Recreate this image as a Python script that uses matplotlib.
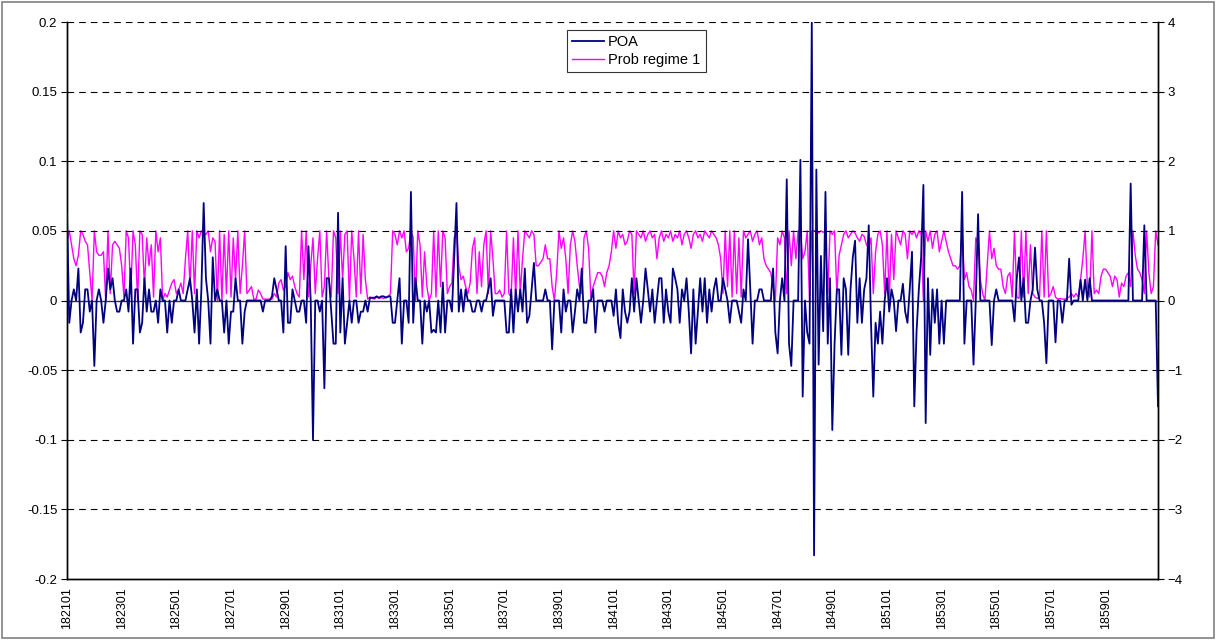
import matplotlib
matplotlib.use("Agg")
import matplotlib.pyplot as plt
from matplotlib.patches import Rectangle

plt.rcParams['font.family'] = ['Liberation Sans', 'DejaVu Sans']

# monthly series, 182101 .. 186012 (12 values per row = one year)
poa = [
    0.063, -0.016, 0, 0.008, 0, 0.023, -0.023, -0.016, 0.008, 0.008, -0.008, 0,          # 1821
    -0.047, 0, 0.008, 0, -0.016, 0, 0.023, 0.008, 0.016, 0, -0.008, -0.008,              # 1822
    0, 0, 0.008, -0.008, 0.023, -0.031, 0.008, 0.008, -0.023, -0.016, 0.016, -0.008,     # 1823
    0.008, -0.008, -0.008, 0, -0.016, 0.008, 0, 0, -0.023, 0, -0.016, 0,                 # 1824
    0, 0.008, 0, 0, 0, 0.008, 0.016, 0, -0.023, 0.008, -0.031, 0.008,                    # 1825
    0.07, 0.016, 0, -0.031, 0.031, 0, 0.008, 0, 0, -0.023, 0, -0.031,                    # 1826
    -0.008, -0.008, 0.016, 0, 0, -0.031, -0.008, 0, 0, 0, 0, 0,                          # 1827
    0, 0, -0.008, 0, 0, 0, 0.003, 0.016, 0.008, 0, 0, -0.023,                            # 1828
    0.039, -0.016, -0.016, 0.008, 0, -0.008, -0.008, 0, 0, -0.016, 0.039, 0,             # 1829
    -0.1, 0, 0, -0.008, 0, -0.063, 0.016, 0.016, -0.008, -0.031, -0.031, 0.063,          # 1830
    -0.023, 0.016, -0.031, -0.016, 0, -0.016, 0, 0, -0.016, -0.008, -0.008, 0,           # 1831
    -0.008, 0.002, 0.002, 0.002, 0.003, 0.002, 0.003, 0.003, 0.002, 0.003, 0.003, -0.016,  # 1832
    -0.016, 0, 0.016, -0.031, 0, 0, -0.016, 0.078, -0.016, 0.016, 0, 0,                  # 1833
    -0.031, 0, -0.008, 0, -0.023, -0.021, -0.023, 0, -0.023, 0.013, -0.023, 0,           # 1834
    0, -0.008, 0.031, 0.07, -0.008, 0.008, -0.008, 0.008, 0, 0, -0.008, -0.008,          # 1835
    0, 0, -0.008, 0, 0, 0.008, 0.016, -0.011, 0, 0, 0, 0,                               # 1836
    0, -0.023, -0.023, 0.008, -0.023, 0.008, -0.008, 0.008, -0.008, 0.023, -0.016, -0.011,  # 1837
    0.008, 0.027, 0, 0, 0, 0, 0.008, 0, 0, -0.035, 0, 0,                                 # 1838
    0, -0.023, 0.008, -0.008, 0, 0, -0.023, -0.008, 0.008, 0, 0.023, -0.016,             # 1839
    -0.016, 0, 0, 0.008, -0.023, 0, 0, 0, -0.008, 0, 0, 0,                               # 1840
    -0.011, 0.008, -0.016, -0.027, 0.008, -0.008, -0.016, -0.008, 0.016, -0.008, 0.016, 0,  # 1841
    -0.016, 0, 0.023, 0.008, -0.008, 0.008, -0.016, 0, 0.016, 0.016, -0.016, 0.008,      # 1842
    -0.008, -0.016, 0.023, 0.016, 0.008, -0.016, 0.008, 0, 0.016, -0.008, -0.038, 0.008,  # 1843
    -0.031, -0.008, 0.016, -0.008, 0.016, -0.016, 0.008, -0.008, 0.008, 0.016, 0, 0,     # 1844
    0.016, 0.008, 0, -0.016, 0, 0, 0, -0.008, -0.016, 0.008, 0, 0.044,                   # 1845
    0.008, -0.031, 0, 0, 0.008, 0.008, 0, 0, 0, 0, 0.023, -0.023,                        # 1846
    -0.038, 0, 0.016, 0, 0.087, -0.031, -0.047, 0, 0, 0, 0.101, -0.069,                  # 1847
    0, -0.023, -0.031, 0.2, -0.183, 0.094, -0.046, 0.032, -0.022, 0.078, -0.031, 0.016,  # 1848
    -0.093, -0.031, 0.008, 0.008, -0.039, 0.016, 0.008, -0.039, 0.008, 0.031, 0.043, -0.016,  # 1849
    0.016, -0.016, 0.008, 0.016, 0.054, -0.016, -0.069, -0.016, -0.031, -0.008, -0.031, 0,  # 1850
    0.016, -0.008, 0.008, 0, -0.022, 0, 0, 0.012, -0.008, -0.016, 0.008, 0.035,          # 1851
    -0.076, -0.022, 0.008, 0.031, 0.083, -0.088, 0.016, -0.039, 0.008, -0.016, 0.008, -0.031,  # 1852
    0, -0.031, 0, 0, 0, 0, 0, 0, 0, 0.078, -0.031, 0,                                    # 1853
    0, 0, -0.046, 0, 0.062, 0, 0, 0, 0, 0, -0.032, 0,                                    # 1854
    0.008, 0, 0, 0, 0, 0, 0, 0, -0.015, 0.016, 0.031, 0,                                 # 1855
    0.016, -0.016, -0.016, 0, 0.008, 0.038, 0.008, 0, 0, -0.016, -0.045, 0,              # 1856
    0, 0, -0.03, 0, 0, -0.016, 0, 0, 0.03, -0.003, 0, 0,                                 # 1857
    0, 0.015, 0, 0.015, 0, 0.016, 0, 0, 0, 0, 0, 0,                                      # 1858
    0, 0, 0, 0, 0, 0, 0, 0, 0, 0, 0, 0.084,                                              # 1859
    0, 0, 0, 0, 0, 0.054, 0, 0, 0, 0, 0, -0.076,                                         # 1860
]

prob_regime1 = [
    0.85, 1.0, 0.8, 0.6, 0.5, 0.65, 1.0, 0.95, 0.85, 0.8, 0.4, 0.0,       # 1821
    1.0, 0.7, 0.65, 0.65, 0.7, 0.0, 1.0, 0.1, 0.8, 0.85, 0.8, 0.75,       # 1822
    0.5, 0.05, 1.0, 0.9, 0.1, 1.0, 0.8, 0.0, 1.0, 0.95, 0.2, 0.9,         # 1823
    0.5, 0.8, 0.05, 1.0, 0.7, 0.9, 0.0, 0.1, 0.05, 0.15, 0.25, 0.3,       # 1824
    0.1, 0.15, 0.25, 0.1, 0.6, 1.0, 0.2, 1.0, 0.1, 1.0, 0.9, 1.0,         # 1825
    0.95, 0.95, 1.0, 0.7, 0.9, 0.85, 0.0, 1.0, 0.0, 0.95, 0.1, 1.0,       # 1826
    0.05, 0.9, 0.3, 1.0, 0.1, 0.5, 1.0, 0.1, 0.15, 0.2, 0.02, 0.02,       # 1827
    0.15, 0.1, 0.02, 0.02, 0.02, 0.02, 0.02, 0.1, 0.05, 0.25, 0.3, 0.15,  # 1828
    0.2, 0.4, 0.3, 0.35, 0.2, 0.1, 0.05, 1.0, 0.3, 1.0, 0.05, 0.5,        # 1829
    0.9, 0.1, 0.6, 1.0, 0.05, 0.2, 1.0, 0.3, 0.05, 1.0, 0.9, 0.1,         # 1830
    1.0, 0.3, 0.95, 1.0, 0.0, 1.0, 0.6, 0.05, 1.0, 0.1, 0.95, 0.3,        # 1831
    0.02, 0.05, 0.03, 0.02, 0.05, 0.03, 0.04, 0.03, 0.05, 0.05, 0.1, 1.0,  # 1832
    0.95, 0.8, 1.0, 0.9, 1.0, 0.7, 0.75, 1.0, 0.9, 0.0, 1.0, 0.8,         # 1833
    0.05, 0.7, 0.2, 0.0, 0.1, 1.0, 0.05, 1.0, 0.2, 1.0, 0.9, 0.1,         # 1834
    0.2, 0.25, 0.9, 1.0, 0.5, 0.3, 0.35, 0.2, 0.1, 0.25, 0.75, 0.9,       # 1835
    0.1, 0.7, 0.2, 0.8, 1.0, 0.1, 1.0, 0.6, 0.1, 0.1, 0.15, 0.05,         # 1836
    0.1, 1.0, 0.1, 0.05, 0.9, 0.05, 1.0, 0.1, 0.6, 1.0, 0.95, 0.9,        # 1837
    1.0, 0.95, 0.5, 0.5, 0.55, 0.6, 0.8, 0.6, 0.6, 0.2, 0.0, 0.4,         # 1838
    1.0, 0.75, 0.9, 0.6, 0.1, 0.8, 1.0, 0.85, 0.5, 0.2, 0.1, 0.9,         # 1839
    1.0, 0.75, 0.05, 0.2, 0.3, 0.4, 0.4, 0.35, 0.2, 0.4, 0.5, 0.7,        # 1840
    1.0, 0.75, 1.0, 0.9, 0.95, 0.8, 0.85, 1.0, 0.95, 0.1, 1.0, 0.95,      # 1841
    0.9, 1.0, 0.85, 0.95, 1.0, 0.9, 0.95, 0.6, 0.9, 1.0, 0.85, 0.95,      # 1842
    0.9, 1.0, 0.85, 0.95, 0.9, 1.0, 0.8, 0.95, 1.0, 0.9, 0.75, 0.95,      # 1843
    1.0, 0.9, 0.95, 0.85, 1.0, 0.95, 0.9, 1.0, 0.95, 0.9, 0.8, 0.6,       # 1844
    0.1, 1.0, 0.2, 1.0, 0.05, 1.0, 0.1, 0.9, 0.05, 1.0, 0.9, 0.95,        # 1845
    1.0, 0.85, 0.95, 1.0, 0.8, 0.9, 0.6, 0.5, 0.45, 0.4, 0.2, 0.0,        # 1846
    0.9, 0.8, 1.0, 0.9, 0.1, 1.0, 0.5, 1.0, 0.6, 1.0, 1.0, 0.6,           # 1847
    0.7, 1.0, 0.0, 1.0, 1.0, 1.0, 0.97, 1.0, 0.98, 1.0, 0.1, 1.0,         # 1848
    0.95, 1.0, 0.1, 0.65, 0.8, 0.95, 1.0, 0.9, 0.95, 1.0, 0.97, 0.9,      # 1849
    0.85, 0.95, 0.92, 0.8, 0.75, 0.9, 0.1, 0.7, 0.95, 1.0, 0.8, 0.1,      # 1850
    1.0, 0.0, 0.95, 0.3, 1.0, 0.9, 0.8, 1.0, 0.95, 0.6, 1.0, 0.95,        # 1851
    1.0, 0.9, 1.0, 0.95, 0.0, 1.0, 0.85, 1.0, 0.75, 0.95, 1.0, 0.7,       # 1852
    0.85, 1.0, 0.85, 0.7, 0.6, 0.5, 0.5, 0.45, 0.5, 1.0, 0.3, 0.4,        # 1853
    0.2, 0.15, 0.0, 0.9, 0.8, 0.3, 0.1, 0.0, 0.5, 1.0, 0.6, 0.75,         # 1854
    0.5, 0.45, 0.45, 0.2, 0.1, 0.35, 0.4, 0.05, 1.0, 0.05, 0.03, 1.0,     # 1855
    0.05, 1.0, 0.1, 0.8, 0.1, 0.05, 0.03, 0.05, 1.0, 0.05, 1.0, 0.05,     # 1856
    0.1, 0.2, 0.05, 0.02, 0.03, 0.02, 0.02, 0.03, 0.05, 0.1, 0.05, 0.1,   # 1857
    0.05, 0.3, 0.6, 1.0, 0.2, 0.05, 1.0, 0.1, 0.15, 0.1, 0.35, 0.45,      # 1858
    0.45, 0.4, 0.35, 0.2, 0.35, 0.3, 0.05, 0.25, 0.2, 0.35, 0.4, 0.2,     # 1859
    1.0, 0.65, 0.45, 0.4, 0.3, 0.1, 1.0, 0.4, 0.1, 0.2, 1.0, 0.8,         # 1860
]

tick_labels = ['182101', '182301', '182501', '182701', '182901', '183101', '183301',
               '183501', '183701', '183901', '184101', '184301', '184501', '184701',
               '184901', '185101', '185301', '185501', '185701', '185901']

months = list(range(len(poa)))

fig = plt.figure(figsize=(12.16, 6.4), dpi=100)
ax = fig.add_axes([0.0551, 0.0953, 0.8972, 0.8703])
ax2 = ax.twinx()

# dashed gridlines on the primary scale
for g in [0.2, 0.15, 0.1, 0.05, -0.05, -0.1, -0.15]:
    ax.axhline(g, color='black', lw=0.8, ls=(0, (6, 4.5)), zorder=0)
ax.axhline(0, color='#333333', lw=1.0, zorder=1)

l2, = ax2.plot(months, prob_regime1, color='#FF00FF', lw=1.0, label='Prob regime 1')
l1, = ax.plot(months, poa, color='#000080', lw=1.3, label='POA', zorder=3)

# navy series drawn above the magenta one
ax.set_zorder(ax2.get_zorder() + 1)
ax.patch.set_visible(False)

ax.set_xlim(0, len(poa) - 1)
ax.set_ylim(-0.2, 0.2)
ax2.set_ylim(-4, 4)
ax.set_yticks([0.2, 0.15, 0.1, 0.05, 0, -0.05, -0.1, -0.15, -0.2])
ax.set_yticklabels(['0.2', '0.15', '0.1', '0.05', '0', '-0.05', '-0.1', '-0.15', '-0.2'])
ax2.set_yticks([4, 3, 2, 1, 0, -1, -2, -3, -4])

ax.set_xticks(range(0, 24 * len(tick_labels), 24))
ax.set_xticklabels(tick_labels, rotation=90)
ax.tick_params(axis='x', length=0, pad=6, labelsize=9)
ax.tick_params(axis='y', length=4, width=0.8, labelsize=9.5, pad=3)
ax2.tick_params(axis='y', length=4, width=0.8, labelsize=9.5, pad=3)

for a in (ax, ax2):
    a.spines['top'].set_visible(False)
    for s in ('left', 'right', 'bottom'):
        a.spines[s].set_linewidth(1.0)
        a.spines[s].set_color('black')

leg = ax.legend(handles=[l1, l2], loc='upper left', bbox_to_anchor=(0.458, 0.986),
                fontsize=10.5, frameon=True, fancybox=False, borderpad=0.35,
                handlelength=2.2, handletextpad=0.3, labelspacing=0.3,
                borderaxespad=0)
leg.get_frame().set_edgecolor('black')
leg.get_frame().set_linewidth(0.8)

# outer chart border
fig.patches.append(Rectangle((0.002, 0.003), 0.996, 0.994, transform=fig.transFigure,
                             fill=False, edgecolor='#808080', lw=1.2))

fig.savefig('out.png', dpi=100)
